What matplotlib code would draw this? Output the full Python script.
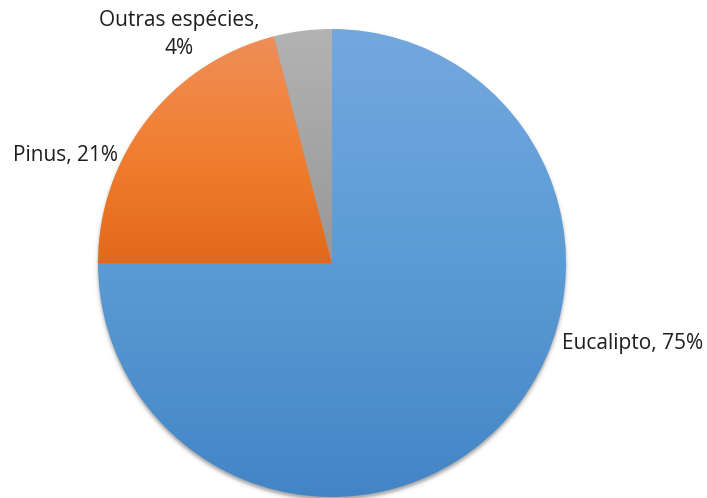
import numpy as np
import matplotlib
matplotlib.use("Agg")
import matplotlib.pyplot as plt
from matplotlib.colors import LinearSegmentedColormap

# Area by species
labels = ["Eucalipto", "Pinus", "Outras espécies"]
shares = [75, 21, 4]
label_texts = ["Eucalipto, 75%", "Pinus, 21%", "Outras espécies,", "4%"]

# light-to-dark vertical gradients per slice (top, middle, bottom)
gradients = [("#73a8de", "#5b9bd5", "#4384c6"),
             ("#ef8e58", "#f17f31", "#e3691a"),
             ("#b3b3b3", "#a5a5a5", "#979797")]

W, H = 707, 498
cx, cy, R = 332, H - 263, 234

fig = plt.figure(figsize=(W / 100, H / 100), dpi=100)
ax = fig.add_axes([0, 0, 1, 1])

# soft drop shadow under the disk
yy, xx = np.mgrid[0:H, 0:W] + 0.5
d = np.hypot(xx - cx, (H - yy) - (cy - 3)) - R
alpha = 0.55 * 0.5 * (1 - np.tanh(d / 2.2))
shadow = np.zeros((H, W, 4))
shadow[..., :3] = 0.35
shadow[..., 3] = alpha
ax.imshow(shadow, extent=(0, W, 0, H), origin="upper", zorder=0, interpolation="bilinear")

wedges, _ = ax.pie(shares, startangle=90, counterclock=False, center=(cx, cy),
                   radius=R, wedgeprops=dict(linewidth=0, facecolor="none"))

for w, (top, mid, bot) in zip(wedges, gradients):
    # gradient spans each slice's own vertical extent
    verts = w.get_path().vertices
    y0, y1 = verts[:, 1].min(), verts[:, 1].max()
    cmap = LinearSegmentedColormap.from_list("g", [bot, mid, top])
    grad = np.linspace(0, 1, 256).reshape(-1, 1)
    im = ax.imshow(grad, cmap=cmap, origin="lower", aspect="auto",
                   extent=(cx - R, cx + R, y0, y1), zorder=2)
    im.set_clip_path(w)

font = "Open Sans"
tc = "#1e1e1e"
fs = 15
ax.text(562, H - 343, label_texts[0], ha="left", va="center", fontsize=fs, family=font, color=tc)
ax.text(13, H - 155, label_texts[1], ha="left", va="center", fontsize=fs, family=font, color=tc)
ax.text(179, H - 20, label_texts[2], ha="center", va="center", fontsize=fs, family=font, color=tc)
ax.text(179, H - 48, label_texts[3], ha="center", va="center", fontsize=fs, family=font, color=tc)

ax.set_xlim(0, W)
ax.set_ylim(0, H)
ax.set_aspect("auto")
ax.axis("off")
fig.savefig("out.png", dpi=100, facecolor="white")
